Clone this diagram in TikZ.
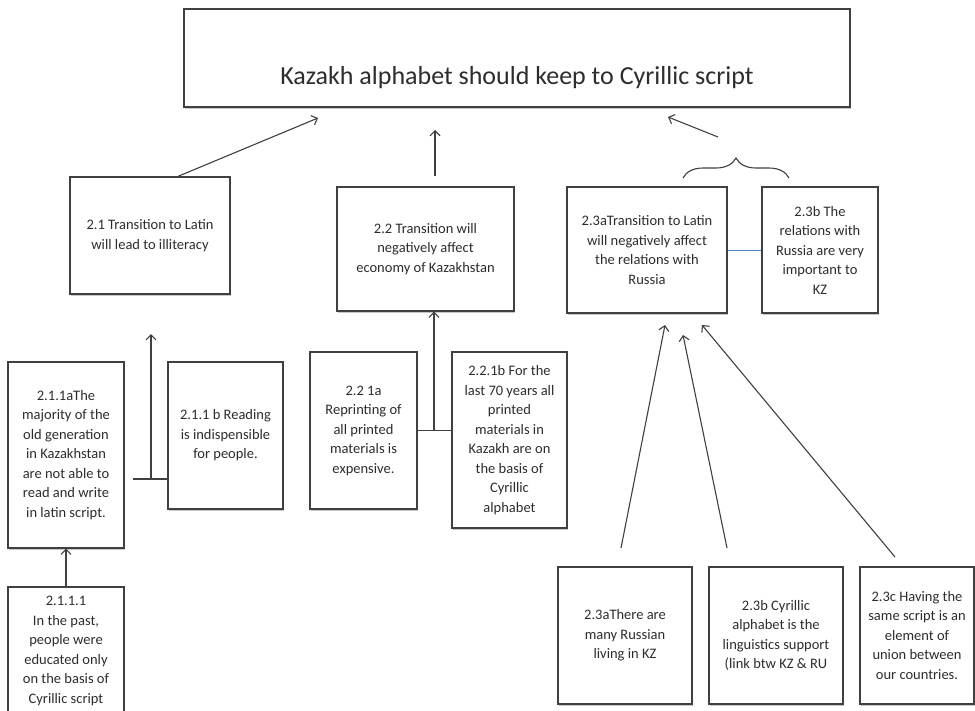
\documentclass[tikz,border=0pt]{standalone}
\usepackage{fontspec}
\setmainfont{Carlito}
\usetikzlibrary{arrows.meta,shadows,decorations.pathreplacing}
\definecolor{edge}{RGB}{64,64,64}
\definecolor{txt}{RGB}{45,45,45}
\definecolor{linkblue}{RGB}{79,129,189}
\tikzset{
  box/.style={draw=edge, line width=1.3pt, fill=white, inner sep=0pt, align=center,
    text=txt, font=\fontsize{14.5}{19.5}\selectfont,
    drop shadow={shadow xshift=1.2pt, shadow yshift=-1.5pt, fill=black, opacity=0.22}},
  conn/.style={draw=edge, line width=1.1pt},
  arr/.style={conn, -{Straight Barb[length=5pt,width=10pt,line width=1.1pt]}},
}
\begin{document}
\begin{tikzpicture}[x=1pt,y=-1pt]
\useasboundingbox[fill=white] (0,0) rectangle (975,710);

% top claim
\node[box, minimum width=666pt, minimum height=98pt] (top) at (517,58) {};
\node[text=txt, font=\fontsize{26}{30}\selectfont, inner sep=0pt] (title) at (517,78) {Kazakh alphabet should keep to Cyrillic script};

% level 1
\node[box, minimum width=160pt, minimum height=117pt] (b21) at (150,235.5) {2.1 Transition to Latin\\will lead to illiteracy};
\node[box, minimum width=177pt, minimum height=124pt] (b22) at (425.5,249) {2.2 Transition will\\negatively affect\\economy of Kazakhstan};
\node[box, minimum width=160pt, minimum height=126pt] (b23a) at (647,250) {2.3aTransition to Latin\\will negatively affect\\the relations with\\Russia};
\node[box, minimum width=116pt, minimum height=126pt] (b23b) at (820,250) {2.3b The\\relations with\\Russia are very\\important to\\KZ};

% level 2
\node[box, minimum width=116pt, minimum height=186pt] (b211a) at (66,455) {2.1.1aThe\\majority of the\\old generation\\in Kazakhstan\\are not able to\\read and write\\in latin script.};
\node[box, minimum width=115pt, minimum height=147pt] (b211b) at (225.5,435.5) {2.1.1 b Reading\\is indispensible\\for people.};
\node[box, minimum width=116pt, minimum height=128pt] (b2111) at (66,651) {2.1.1.1\\In the past,\\people were\\educated only\\on the basis of\\Cyrillic script};
\node[box, minimum width=107pt, minimum height=157pt] (b221a) at (363.5,430.5) {2.2 1a\\Reprinting of\\all printed\\materials is\\expensive.};
\node[box, minimum width=115pt, minimum height=176pt] (b221b) at (509.5,440) {2.2.1b For the\\last 70 years all\\printed\\materials in\\Kazakh are on\\the basis of\\Cyrillic\\alphabet};

% level 3 (bottom right)
\node[box, minimum width=134pt, minimum height=137pt] (b3a) at (625,635.5) {2.3aThere are\\many Russian\\living in KZ};
\node[box, minimum width=134pt, minimum height=137pt] (b3b) at (776,635.5) {2.3b Cyrillic\\alphabet is the\\linguistics support\\(link btw KZ \& RU};
\node[box, minimum width=114pt, minimum height=137pt] (b3c) at (917,635.5) {2.3c Having the\\same script is an\\element of\\union between\\our countries.};

% free ends
\coordinate (t1) at (318,118);
\coordinate (m1) at (435,176);
\coordinate (m2) at (435,130);
\coordinate (r1) at (718,137);
\coordinate (r2) at (668,117);
\coordinate (br1) at (683,178);
\coordinate (br2) at (789,178);
\coordinate (h1) at (133,479);
\coordinate (j1) at (151,479);
\coordinate (t21) at (151,334);
\coordinate (j2) at (434,430.5);
\coordinate (a1) at (621,548);
\coordinate (a1t) at (665,325);
\coordinate (a2) at (727,548);
\coordinate (a2t) at (683,335);
\coordinate (a3) at (895,557);
\coordinate (a3t) at (702,325);

% connectors to the claim
\draw[arr] ([xshift=28pt]b21.north) -- (t1);
\draw[arr] (m1) -- (m2);
\draw[arr] (r1) -- (r2);
\draw[conn, decorate, decoration={brace, amplitude=20pt}] (br1) -- (br2);
\draw[draw=linkblue, line width=1pt] (b23a.east) -- (b23b.west);

% 2.1.1 group
\draw[conn] (h1) -- (j1 -| b211b.west);
\draw[arr] (j1) -- (t21);
\draw[arr] (b2111.north) -- (b211a.south);

% 2.2.1 group
\draw[conn] (b221a.east) -- (b221a.east -| b221b.west);
\draw[arr] (j2) -- (j2 |- b22.south);

% 2.3 supports
\draw[arr] (a1) -- (a1t);
\draw[arr] (a2) -- (a2t);
\draw[arr] (a3) -- (a3t);
\end{tikzpicture}
\end{document}
